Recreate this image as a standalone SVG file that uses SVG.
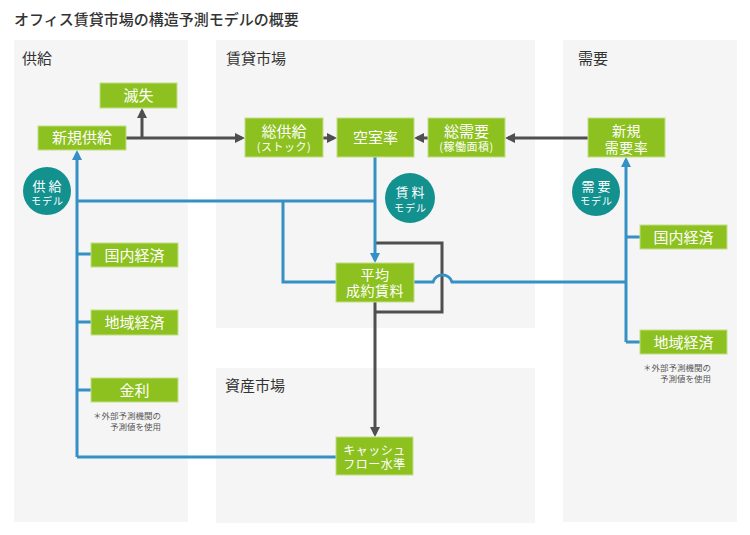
<svg xmlns="http://www.w3.org/2000/svg" width="750" height="535" viewBox="0 0 750 535">
<defs>
<marker id="ag" viewBox="0 0 10 10" refX="7" refY="5" markerWidth="10" markerHeight="10" markerUnits="userSpaceOnUse" orient="auto"><path d="M0,0 L10,5 L0,10 z" fill="#4f4f4f"/></marker>
<marker id="ab" viewBox="0 0 10 10" refX="7" refY="5" markerWidth="10" markerHeight="10" markerUnits="userSpaceOnUse" orient="auto"><path d="M0,0 L10,5 L0,10 z" fill="#3590c6"/></marker>
<style>
text{font-family:"Noto Sans CJK JP","Noto Sans",sans-serif;}
.panel{fill:#f5f5f5;}
.plabel{font-size:15px;fill:#333;}
.box{fill:#8dc11f;stroke:#c2de86;stroke-width:1;}
.nt{fill:#fff;font-size:15px;text-anchor:middle;}
.n2{fill:#fff;font-size:14px;text-anchor:middle;letter-spacing:0.5px;}
.ns{fill:#fff;font-size:11px;text-anchor:middle;letter-spacing:0.5px;}
.nm{fill:#fff;font-size:12px;text-anchor:middle;letter-spacing:0.5px;}
.circ{fill:#13918f;}
.ct{fill:#fff;font-size:13px;text-anchor:middle;letter-spacing:3px;}
.cs{fill:#fff;font-size:10px;text-anchor:middle;letter-spacing:1px;}
.g{fill:none;stroke:#4f4f4f;stroke-width:3;}
.b{fill:none;stroke:#3590c6;stroke-width:3;}
.note{fill:#555;font-size:8.5px;text-anchor:end;}
</style>
</defs>
<rect width="750" height="535" fill="#fff"/>
<text x="14" y="25" font-size="15" font-weight="500" fill="#333">オフィス賃貸市場の構造予測モデルの概要</text>

<g id="panels">
<rect class="panel" x="14" y="40" width="174" height="482"/>
<rect class="panel" x="216" y="40" width="319" height="288"/>
<rect class="panel" x="216" y="368" width="319" height="155"/>
<rect class="panel" x="563" y="40" width="174" height="482"/>
<text class="plabel" x="22" y="64">供給</text>
<text class="plabel" x="226" y="64">賃貸市場</text>
<text class="plabel" x="225" y="391">資産市場</text>
<text class="plabel" x="578" y="64">需要</text>
</g>

<g id="connectors">
<path class="g" d="M126,138 H242" marker-end="url(#ag)"/>
<path class="g" d="M142,138 V111" marker-end="url(#ag)"/>
<path class="g" d="M323,138 H334" marker-end="url(#ag)"/>
<path class="g" d="M428,138 H417" marker-end="url(#ag)"/>
<path class="g" d="M588,138 H508" marker-end="url(#ag)"/>
<path class="g" d="M375,243 H442 V312 H375"/>
<path class="g" d="M375,302 V434" marker-end="url(#ag)"/>
<path class="b" d="M77,457 V153" marker-end="url(#ab)"/>
<path class="b" d="M77,254 H91 M77,322 H91 M77,390 H91"/>
<path class="b" d="M77,201 H375"/>
<path class="b" d="M77,457 H336"/>
<path class="b" d="M375,157 V260" marker-end="url(#ab)"/>
<path class="b" d="M283,201 V282 H336"/>
<path class="b" d="M414,282 H433 A10,10 0 0 1 452,282 H626"/>
<path class="b" d="M626,342 V160" marker-end="url(#ab)"/>
<path class="b" d="M626,237 H640 M626,342 H640"/>
</g>

<g id="n-messhitsu"><rect class="box" x="100" y="83" width="77" height="25"/><text class="nt" x="138.5" y="101">滅失</text></g>
<g id="n-shinkikyokyu"><rect class="box" x="38" y="126" width="88" height="24"/><text class="nt" x="82" y="143">新規供給</text></g>
<g id="n-kyokyu-model"><circle class="circ" cx="47" cy="191" r="24"/><text class="ct" x="48.5" y="191">供給</text><text class="cs" x="47.5" y="205">モデル</text></g>
<g id="n-kokunai-l"><rect class="box" x="91" y="243" width="87" height="24"/><text class="nt" x="134.5" y="261">国内経済</text></g>
<g id="n-chiiki-l"><rect class="box" x="91" y="310" width="87" height="25"/><text class="nt" x="134.5" y="328">地域経済</text></g>
<g id="n-kinri"><rect class="box" x="91" y="378" width="87" height="24"/><text class="nt" x="134.5" y="396">金利</text>
<text class="note" x="161" y="419">＊外部予測機関の</text><text class="note" x="161" y="430">予測値を使用</text></g>

<g id="n-sokyokyu"><rect class="box" x="245" y="118" width="78" height="39"/><text class="nt" x="284" y="137">総供給</text><text class="ns" x="284" y="151">(ストック)</text></g>
<g id="n-kushitsu"><rect class="box" x="337" y="118" width="77" height="39"/><text class="nt" x="375.5" y="143">空室率</text></g>
<g id="n-sojuyo"><rect class="box" x="428" y="118" width="77" height="39"/><text class="nt" x="466.5" y="137">総需要</text><text class="ns" x="466.5" y="151">(稼働面積)</text></g>
<g id="n-chinryo-model"><circle class="circ" cx="410" cy="198" r="25"/><text class="ct" x="411.5" y="197">賃料</text><text class="cs" x="410.5" y="212">モデル</text></g>
<g id="n-heikin"><rect class="box" x="336" y="263" width="78" height="39"/><text class="n2" x="375" y="280">平均</text><text class="n2" x="375" y="296">成約賃料</text></g>
<g id="n-cashflow"><rect class="box" x="336" y="437" width="77" height="38"/><text class="nm" x="374.5" y="455">キャッシュ</text><text class="nm" x="374.5" y="469">フロー水準</text></g>

<g id="n-shinkijuyo"><rect class="box" x="588" y="118" width="77" height="39"/><text class="n2" x="626.5" y="136">新規</text><text class="n2" x="626.5" y="153">需要率</text></g>
<g id="n-juyo-model"><circle class="circ" cx="596" cy="192" r="24"/><text class="ct" x="597.5" y="191">需要</text><text class="cs" x="596.5" y="205">モデル</text></g>
<g id="n-kokunai-r"><rect class="box" x="640" y="225" width="87" height="24"/><text class="nt" x="683.5" y="243">国内経済</text></g>
<g id="n-chiiki-r"><rect class="box" x="640" y="330" width="87" height="24"/><text class="nt" x="683.5" y="348">地域経済</text>
<text class="note" x="711" y="371">＊外部予測機関の</text><text class="note" x="711" y="382">予測値を使用</text></g>
</svg>
